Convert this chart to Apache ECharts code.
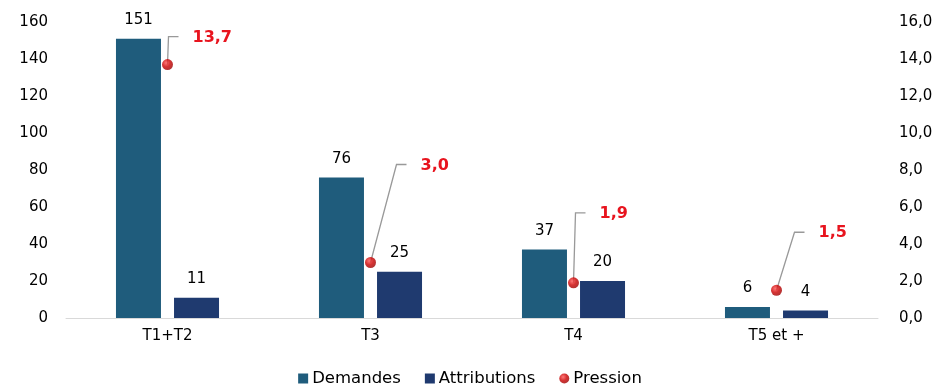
<!DOCTYPE html>
<html>
<head>
<meta charset="utf-8">
<script src="https://cdn.jsdelivr.net/npm/echarts@6/dist/echarts.min.js"></script>
<style>html,body{margin:0;padding:0;background:#fff}#c{width:940px;height:388px}</style>
</head>
<body>
<div id="c"></div>
<script>
const categories = ['T1+T2', 'T3', 'T4', 'T5 et +'];
const demandes = [151, 76, 37, 6];
const attributions = [11, 25, 20, 4];
const pression = [13.7, 3.0, 1.9, 1.5];
const leftTicks = { min: 0, max: 160, interval: 20 };
const rightTicks = { min: 0, max: 16, interval: 2 };

// leader-line corner offsets (px) relative to each Pression dot
const leaderOffsets = [[1, -28], [26, -98], [2, -70], [18, -58]];

const fmt = v => v.toFixed(1).replace('.', ',');
const FONT = 'DejaVu Sans';

const chart = echarts.init(document.getElementById('c'));
chart.setOption({
  animation: false,
  textStyle: { fontFamily: FONT },
  grid: { left: 66, right: 62, top: 22, bottom: 70, containLabel: false },
  legend: {
    top: 365, left: 'center', padding: 5,
    itemWidth: 10, itemHeight: 10, itemGap: 24,
    textStyle: { fontFamily: FONT, fontSize: 16.5, color: '#000', padding: [0, 0, 0, -1] },
    data: [
      { name: 'Demandes', icon: 'rect' },
      { name: 'Attributions', icon: 'rect' },
      { name: 'Pression', icon: 'circle' }
    ]
  },
  xAxis: {
    type: 'category', data: categories,
    axisLine: { lineStyle: { color: '#D9D9D9' } },
    axisTick: { show: false },
    axisLabel: { color: '#000', fontSize: 15, margin: 11, fontFamily: FONT }
  },
  yAxis: [
    {
      type: 'value', min: leftTicks.min, max: leftTicks.max, interval: leftTicks.interval,
      splitLine: { show: false }, axisLine: { show: false }, axisTick: { show: false },
      axisLabel: { color: '#000', fontSize: 15, margin: 18, fontFamily: FONT }
    },
    {
      type: 'value', min: rightTicks.min, max: rightTicks.max, interval: rightTicks.interval,
      splitLine: { show: false }, axisLine: { show: false }, axisTick: { show: false },
      axisLabel: { color: '#000', fontSize: 15, margin: 21, fontFamily: FONT, formatter: v => fmt(v) }
    }
  ],
  series: [
    {
      name: 'Demandes', type: 'bar', data: demandes, barWidth: 45, barGap: '29%',
      itemStyle: { color: '#1F5C7C' },
      label: { show: true, position: 'top', distance: 11, color: '#000', fontSize: 15, fontFamily: FONT }
    },
    {
      name: 'Attributions', type: 'bar', data: attributions, barWidth: 45,
      itemStyle: { color: '#1F3A6F' },
      label: { show: true, position: 'top', distance: 11, color: '#000', fontSize: 15, fontFamily: FONT }
    },
    {
      name: 'PressionLabels', type: 'custom', yAxisIndex: 1, z: 3,
      data: pression.map((v, i) => [i, v]),
      renderItem: (params, api) => {
        const i = params.dataIndex;
        const p = api.coord([api.value(0), api.value(1)]);
        const off = leaderOffsets[i];
        const cx = p[0] + off[0], cy = p[1] + off[1];
        return {
          type: 'group',
          children: [
            { type: 'polyline', shape: { points: [p, [cx, cy], [cx + 10, cy]] },
              style: { stroke: '#999999', lineWidth: 1.3, fill: null } },
            { type: 'text', x: cx + 24, y: cy + 1,
              style: { text: fmt(api.value(1)), fill: '#E8141E', font: 'bold 16px ' + FONT,
                       align: 'left', verticalAlign: 'middle' } }
          ]
        };
      }
    },
    {
      name: 'Pression', type: 'scatter', yAxisIndex: 1, z: 5, data: pression,
      symbol: 'circle', symbolSize: 11,
      itemStyle: {
        color: { type: 'radial', x: 0.38, y: 0.35, r: 0.7,
          colorStops: [{ offset: 0, color: '#FF5555' }, { offset: 0.5, color: '#CC0000' }, { offset: 1, color: '#990000' }] }
      }
    }
  ]
});
</script>
</body>
</html>
